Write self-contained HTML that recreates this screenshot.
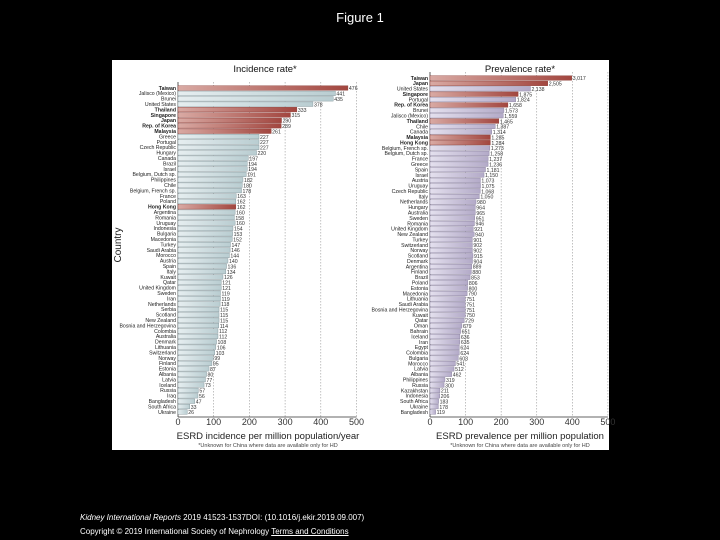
<!DOCTYPE html>
<html><head><meta charset="utf-8">
<style>
html,body{margin:0;padding:0;background:#000;}
body{width:720px;height:540px;position:relative;overflow:hidden;font-family:"Liberation Sans",sans-serif;}
#title{position:absolute;top:10px;left:0;width:720px;text-align:center;color:#fff;font-size:13px;}
#panel{position:absolute;left:112px;top:60px;width:497px;height:390px;background:#fff;}
.foot{position:absolute;left:80px;color:#fff;font-size:8px;}
</style></head><body>
<div id="title">Figure 1</div>
<div id="panel"></div>
<svg id="chart" width="720" height="540" style="position:absolute;left:0;top:0">
<defs>
<linearGradient id="gRed" x1="0" x2="1"><stop offset="0" stop-color="#d9aaa4"/><stop offset="1" stop-color="#a2463f"/></linearGradient>
<linearGradient id="gBlue" x1="0" x2="1"><stop offset="0" stop-color="#e6eef0"/><stop offset="1" stop-color="#b9cdd1"/></linearGradient>
<linearGradient id="gPur" x1="0" x2="1"><stop offset="0" stop-color="#e4e0ee"/><stop offset="1" stop-color="#b3aac8"/></linearGradient>
</defs>
</svg>
<div class="foot" style="top:513px"><i>Kidney International Reports</i> 2019 41523-1537DOI: (10.1016/j.ekir.2019.09.007)</div>
<div class="foot" style="top:527px">Copyright © 2019 International Society of Nephrology <u>Terms and Conditions</u></div>
<script>
const incCountries=["Taiwan","Jalisco (Mexico)","Brunei","United States","Thailand","Singapore","Japan","Rep. of Korea","Malaysia","Greece","Portugal","Czech Republic","Hungary","Canada","Brazil","Israel","Belgium, Dutch sp.","Philippines","Chile","Belgium, French sp.","France","Poland","Hong Kong","Argentina","Romania","Uruguay","Indonesia","Bulgaria","Macedonia","Turkey","Saudi Arabia","Morocco","Austria","Spain","Italy","Kuwait","Qatar","United Kingdom","Sweden","Iran","Netherlands","Serbia","Scotland","New Zealand","Bosnia and Herzegovina","Colombia","Australia","Denmark","Lithuania","Switzerland","Norway","Finland","Estonia","Albania","Latvia","Iceland","Russia","Iraq","Bangladesh","South Africa","Ukraine"];
const incValues=[476,441,435,378,333,315,290,289,261,227,227,227,220,197,194,194,191,182,180,178,163,162,162,160,158,160,154,153,152,147,146,144,140,136,134,126,121,121,119,119,118,115,115,115,114,112,112,108,106,103,99,95,87,80,77,73,57,56,47,33,26];
const incHighlight=["Taiwan","Thailand","Singapore","Japan","Rep. of Korea","Malaysia","Hong Kong"];
const prevCountries=["Taiwan","Japan","United States","Singapore","Portugal","Rep. of Korea","Brunei","Jalisco (Mexico)","Thailand","Chile","Canada","Malaysia","Hong Kong","Belgium, French sp.","Belgium, Dutch sp.","France","Greece","Spain","Israel","Austria","Uruguay","Czech Republic","Italy","Netherlands","Hungary","Australia","Sweden","Romania","United Kingdom","New Zealand","Turkey","Switzerland","Norway","Scotland","Denmark","Argentina","Finland","Brazil","Poland","Estonia","Macedonia","Lithuania","Saudi Arabia","Bosnia and Herzegovina","Kuwait","Qatar","Oman","Bahrain","Iceland","Iran","Egypt","Colombia","Bulgaria","Morocco","Latvia","Albania","Philippines","Russia","Kazakhstan","Indonesia","South Africa","Ukraine","Bangladesh"];
const prevValues=[3017,2505,2138,1875,1824,1658,1573,1559,1465,1387,1314,1285,1284,1273,1258,1237,1236,1181,1150,1073,1075,1068,1050,980,964,965,951,946,921,940,901,902,902,915,904,889,880,853,806,800,790,751,751,751,750,729,679,651,636,635,624,624,603,541,512,462,319,300,211,206,183,178,119];
const prevHighlight=["Taiwan","Japan","Singapore","Rep. of Korea","Thailand","Malaysia","Hong Kong"];
const tickLabels=[0,100,200,300,400,500];

const svg=document.getElementById('chart');
const NS='http://www.w3.org/2000/svg';
function mk(tag,attrs,txt){const e=document.createElementNS(NS,tag);for(const k in attrs)e.setAttribute(k,attrs[k]);if(txt!==undefined)e.textContent=txt;svg.appendChild(e);return e;}

function drawChart(cfg){
  const n=cfg.cats.length;
  const step=(cfg.yLast-cfg.yFirst)/(n-1);
  const yc=i=>cfg.yFirst+i*step;
  const xs=v=>cfg.x0+v*cfg.k;
  cfg.ticks.forEach(t=>{
    const x=xs(t*cfg.tickMul);
    if(t>0){const g=mk('line',{x1:x,x2:x,y1:cfg.yFirst-6,y2:cfg.yLast+5,stroke:'#999','stroke-dasharray':'1.5,1.5','stroke-width':0.6});
    
    }
    const tl=mk('text',{x:x,y:cfg.yLast+13,'font-size':9,'text-anchor':'middle',fill:'#333'},t);
    
    
  });
  const ax=mk('line',{x1:cfg.x0,x2:cfg.x0,y1:cfg.yFirst-6,y2:cfg.yLast+5,stroke:'#333','stroke-width':0.8});
  
  
  const bx=mk('line',{x1:cfg.x0,x2:xs(cfg.ticks[cfg.ticks.length-1]*cfg.tickMul),y1:cfg.yLast+5,y2:cfg.yLast+5,stroke:'#333','stroke-width':0.8});
  
  
  cfg.cats.forEach((c,i)=>{
    const hl=cfg.hl.includes(c);
    const y=yc(i);
    const r=mk('rect',{x:cfg.x0,y:y-2.3,width:Math.max(0,xs(cfg.vals[i])-cfg.x0),height:4.6,fill:hl?'url(#gRed)':cfg.fill,stroke:hl?'#8a3a34':cfg.stroke,'stroke-width':0.4});
    
    
    const l=mk('text',{x:cfg.x0-2,y:y+1.8,'font-size':5.2,'text-anchor':'end',fill:'#222','font-weight':hl?'bold':'normal'},c);
    
    
    const v=mk('text',{x:xs(cfg.vals[i])+1,y:y+2.2,'font-size':5.2,fill:'#333'},cfg.fmt(cfg.vals[i]));
    
    
  });
  const t=mk('text',{x:cfg.titleX,y:72,'font-size':9.5,'text-anchor':'middle',fill:'#111'},cfg.title);
  
  
  const xt=mk('text',{x:cfg.axisTitleX,y:cfg.yLast+27,'font-size':9.5,'text-anchor':'middle',fill:'#222'},cfg.axisTitle);
  
  
  const fn=mk('text',{x:cfg.axisTitleX,y:cfg.yLast+35,'font-size':5.5,'text-anchor':'middle',fill:'#444'},'*Unknown for China where data are available only for HD');
  
  
}
drawChart({cats:incCountries,vals:incValues,hl:incHighlight,x0:178,k:0.357,yFirst:88,yLast:412,ticks:tickLabels,tickMul:1,fill:'url(#gBlue)',stroke:'#7d8f94',fmt:v=>String(v),title:'Incidence rate*',titleX:265,axisTitle:'ESRD incidence per million population/year',axisTitleX:268});
drawChart({cats:prevCountries,vals:prevValues,hl:prevHighlight,x0:430,k:0.047,yFirst:78,yLast:412,ticks:tickLabels,tickMul:7.57,fill:'url(#gPur)',stroke:'#857c9a',fmt:v=>v>=1000?Math.floor(v/1000)+','+String(v%1000).padStart(3,'0'):String(v),title:'Prevalence rate*',titleX:520,axisTitle:'ESRD prevalence per million population',axisTitleX:520});
const yt=mk('text',{x:0,y:0,'font-size':10,'text-anchor':'middle',fill:'#222',transform:'translate(121,245) rotate(-90)'},'Country');


</script>
</body></html>
